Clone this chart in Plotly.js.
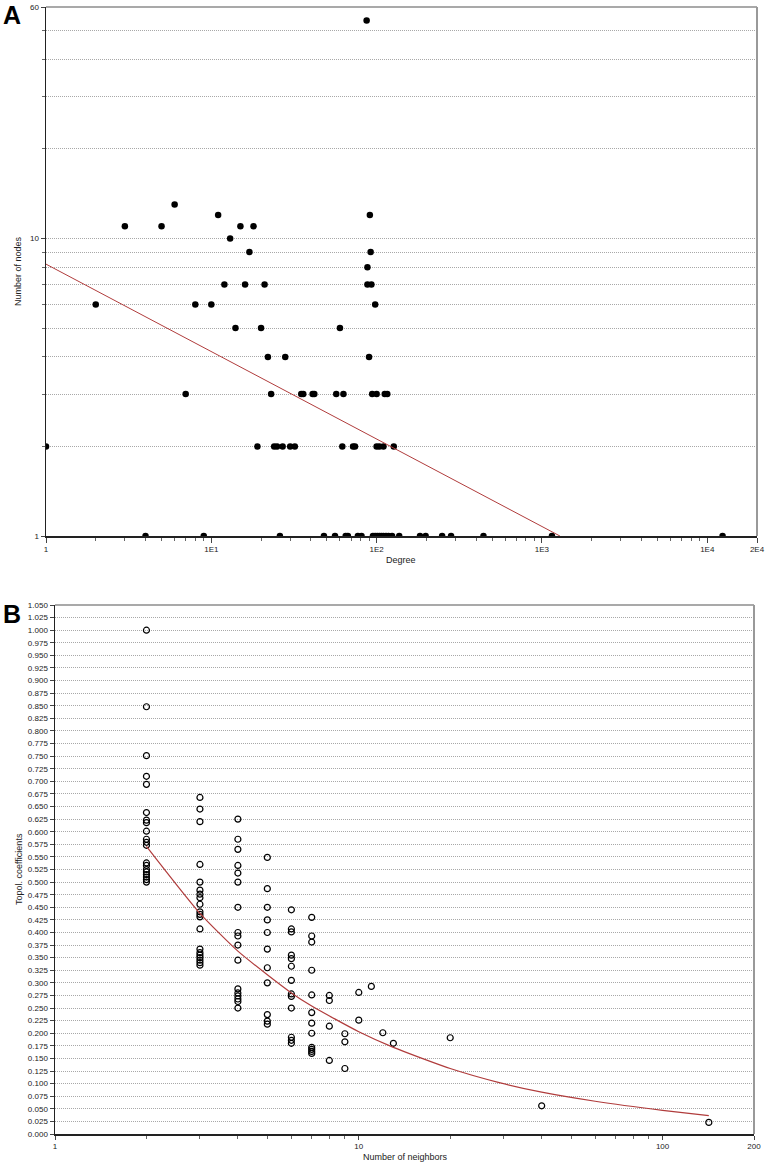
<!DOCTYPE html>
<html>
<head>
<meta charset="utf-8">
<script src="https://cdn.plot.ly/plotly-3.0.1.min.js"></script>
<style>html,body{margin:0;padding:0;background:#fff;}#chart{width:767px;height:1163px;}</style>
</head>
<body>
<div id="chart"></div>
<script>
// ---------- Panel A: degree distribution (log-log) ----------
const degreeA = [1,2,3,4,5,6,7,8,9,10,11,12,13,14,15,16,17,18,19,20,21,22,23,24,25,26,27,28,
  30,32,35,36,41,42,48,56,57,60,62,63,65,67,72,74,77,81,
  87,88,88,90,91,92,93,94,95,98,98,100,100,101,104,104,107,110,110,112,114,116,118,124,127,
  137,183,198,249,282,443,1150,12380];
const nodesA = [2,6,11,1,11,13,3,6,1,6,12,7,10,5,11,7,9,11,2,5,7,4,3,2,2,1,2,4,
  2,2,3,3,3,3,1,1,3,5,2,3,1,1,2,2,1,1,
  54,8,7,4,12,9,7,3,1,6,1,3,2,1,2,1,1,2,1,3,1,3,1,1,2,
  1,1,1,1,1,1,1,1];
const fitAx = [1, 1285];
const fitAy = [8.2, 1];
const xTickValsA = [1,10,100,1000,10000,20000];
const xTickTextA = ['1','1E1','1E2','1E3','1E4','2E4'];
const xMinorA = [2,3,4,5,6,7,8,9,20,30,40,50,60,70,80,90,200,300,400,500,600,700,800,900,2000,3000,4000,5000,6000,7000,8000,9000];
const yTickValsA = [1,10,60];
const yTickTextA = ['1','10','60'];
const yMinorA = [2,3,4,5,6,7,8,9,20,30,40,50];

// ---------- Panel B: topological coefficients ----------
const neighborsB = [2,3,4,5,6,7,8,9,10,11,12,13,20,40,142];
const coefByNeighborsB = [
  [1.000,0.848,0.751,0.710,0.694,0.638,0.623,0.618,0.601,0.585,0.579,0.573,0.538,0.533,0.525,0.520,0.515,0.510,0.505,0.500],
  [0.668,0.645,0.620,0.535,0.500,0.484,0.476,0.469,0.456,0.441,0.436,0.431,0.407,0.367,0.360,0.355,0.350,0.345,0.340,0.335],
  [0.625,0.585,0.565,0.533,0.518,0.500,0.450,0.400,0.393,0.375,0.345,0.288,0.280,0.274,0.268,0.263,0.250],
  [0.549,0.487,0.450,0.425,0.400,0.367,0.330,0.300,0.237,0.224,0.218],
  [0.445,0.407,0.401,0.355,0.348,0.333,0.305,0.278,0.273,0.250,0.192,0.186,0.180],
  [0.430,0.393,0.381,0.325,0.276,0.241,0.220,0.200,0.172,0.168,0.164,0.160],
  [0.275,0.265,0.214,0.146],
  [0.199,0.183,0.130],
  [0.281,0.226],
  [0.293],
  [0.201],
  [0.180],
  [0.191],
  [0.056],
  [0.023]
];
const fitBx = [2,3,4,5,6,7,10,13,20,29,40,60,100,142];
const fitBy = [0.571,0.438,0.363,0.316,0.280,0.254,0.203,0.172,0.130,0.102,0.083,0.065,0.047,0.0365];
const xTickValsB = [1,10,100,200];
const xTickTextB = ['1','10','100','200'];
const xMinorB = [2,3,4,5,6,7,8,9,20,30,40,50,60,70,80,90];

// build flat arrays for B
const xB = [], yB = [];
neighborsB.forEach((n,i)=>{ coefByNeighborsB[i].forEach(v=>{ xB.push(n); yB.push(v); }); });

const W = 767, H = 1163;
const px = v => v / W;
const py = v => 1 - v / H;

const fitColor = '#b03c3c';
const gridColor = '#a8a8a8';
const gridDash = '1px,1px';
const fontFam = '"Liberation Sans", Arial, sans-serif';

const traces = [
  {x: degreeA, y: nodesA, type: 'scatter', mode: 'markers', xaxis: 'x', yaxis: 'y',
   marker: {color: '#000', size: 6.5, symbol: 'circle'}},
  {x: fitAx, y: fitAy, type: 'scatter', mode: 'lines', xaxis: 'x', yaxis: 'y',
   line: {color: fitColor, width: 1}},
  {x: xB, y: yB, type: 'scatter', mode: 'markers', xaxis: 'x2', yaxis: 'y2',
   marker: {color: '#000', size: 6, symbol: 'circle-open', line: {color: '#000', width: 1.2}}},
  {x: fitBx, y: fitBy, type: 'scatter', mode: 'lines', xaxis: 'x2', yaxis: 'y2',
   line: {color: fitColor, width: 1.2, shape: 'spline', smoothing: 0.6}}
];

const axisCommon = {showline: true, linecolor: '#222', linewidth: 1.5, zeroline: false,
  ticks: 'outside', tickcolor: '#444', tickwidth: 1, tickfont: {size: 8, color: '#222', family: fontFam}};

const layout = {
  width: W, height: H,
  margin: {l: 0, r: 0, t: 0, b: 0},
  paper_bgcolor: '#fff', plot_bgcolor: '#fff',
  showlegend: false,
  font: {family: fontFam, size: 8, color: '#222'},
  xaxis: Object.assign({}, axisCommon, {
    type: 'log', domain: [px(46), px(757)], range: [0, Math.log10(20000)],
    anchor: 'y', tickmode: 'array', tickvals: xTickValsA, ticktext: xTickTextA, ticklen: 5,
    showgrid: false,
    minor: {tickmode: 'array', tickvals: xMinorA, ticks: 'outside', ticklen: 3, tickcolor: '#666', showgrid: false}
  }),
  yaxis: Object.assign({}, axisCommon, {
    type: 'log', domain: [py(536), py(7)], range: [0, Math.log10(60)],
    anchor: 'x', tickmode: 'array', tickvals: yTickValsA, ticktext: yTickTextA, ticklen: 4,
    showgrid: true, gridcolor: gridColor, griddash: gridDash, gridwidth: 1,
    minor: {tickmode: 'array', tickvals: yMinorA, ticks: 'outside', ticklen: 3, tickcolor: '#666',
            showgrid: true, gridcolor: gridColor, griddash: gridDash, gridwidth: 1}
  }),
  xaxis2: Object.assign({}, axisCommon, {
    type: 'log', domain: [px(55), px(754)], range: [0, Math.log10(200)],
    anchor: 'y2', tickmode: 'array', tickvals: xTickValsB, ticktext: xTickTextB, ticklen: 4,
    showgrid: false,
    minor: {tickmode: 'array', tickvals: xMinorB, ticks: 'outside', ticklen: 3, tickcolor: '#666', showgrid: false}
  }),
  yaxis2: Object.assign({}, axisCommon, {
    domain: [py(1134), py(605)], range: [0, 1.05],
    anchor: 'x2', tickmode: 'linear', tick0: 0, dtick: 0.025, tickformat: '.3f', ticklen: 4,
    showgrid: true, gridcolor: gridColor, griddash: gridDash, gridwidth: 1
  }),
  shapes: [
    {type: 'line', xref: 'x domain', yref: 'y domain', x0: 0, x1: 1, y0: 1, y1: 1, line: {color: '#555', width: 1.2}},
    {type: 'line', xref: 'x domain', yref: 'y domain', x0: 1, x1: 1, y0: 0, y1: 1, line: {color: '#999', width: 2}},
    {type: 'line', xref: 'x2 domain', yref: 'y2 domain', x0: 0, x1: 1, y0: 1, y1: 1, line: {color: '#555', width: 1.2}},
    {type: 'line', xref: 'x2 domain', yref: 'y2 domain', x0: 1, x1: 1, y0: 0, y1: 1, line: {color: '#999', width: 2}}
  ],
  annotations: [
    {text: '<b>A</b>', xref: 'paper', yref: 'paper', x: px(1), y: py(15), xanchor: 'left', yanchor: 'middle',
     showarrow: false, font: {size: 25, color: '#000', family: fontFam}},
    {text: '<b>B</b>', xref: 'paper', yref: 'paper', x: px(1), y: py(614), xanchor: 'left', yanchor: 'middle',
     showarrow: false, font: {size: 25, color: '#000', family: fontFam}},
    {text: 'Degree', xref: 'paper', yref: 'paper', x: px(401), y: py(560), xanchor: 'center', yanchor: 'middle',
     showarrow: false, font: {size: 9, color: '#222', family: fontFam}},
    {text: 'Number of nodes', xref: 'paper', yref: 'paper', x: px(18), y: py(271), xanchor: 'center', yanchor: 'middle',
     textangle: -90, showarrow: false, font: {size: 9, color: '#222', family: fontFam}},
    {text: 'Number of neighbors', xref: 'paper', yref: 'paper', x: px(405), y: py(1157), xanchor: 'center', yanchor: 'middle',
     showarrow: false, font: {size: 9, color: '#222', family: fontFam}},
    {text: 'Topol. coefficients', xref: 'paper', yref: 'paper', x: px(19), y: py(869), xanchor: 'center', yanchor: 'middle',
     textangle: -90, showarrow: false, font: {size: 9, color: '#222', family: fontFam}}
  ]
};

Plotly.newPlot('chart', traces, layout, {staticPlot: true, displayModeBar: false});
</script>
</body>
</html>
